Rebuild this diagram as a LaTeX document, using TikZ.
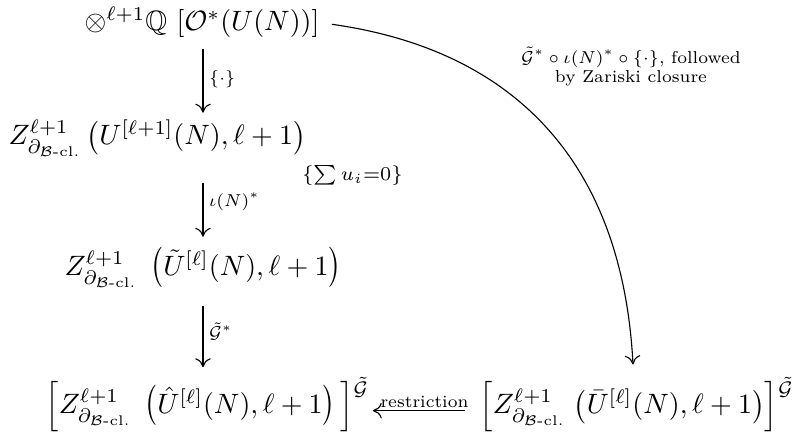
\documentclass[tikz,border=0pt]{standalone}
\usepackage{amsmath,amssymb,graphicx}
\usetikzlibrary{arrows.meta}
\newcommand{\Zcl}{Z^{\ell+1}_{\partial_{\mathcal{B}\text{-cl.}}}}
\newcommand{\mlpar}{\mathopen{\scalebox{1}[1.2]{$\bigl($}}}
\newcommand{\mrpar}{\mathclose{\scalebox{1}[1.2]{$\bigr)$}}}
\newcommand{\Gsup}{\smash{\raisebox{-2.5pt}{$\scriptstyle\tilde{\mathcal{G}}$}}}
\newcommand{\lb}[1]{\scalebox{0.88}{#1}}
\begin{document}
\begin{tikzpicture}[x=0.35714pt,y=-0.35714pt,
  cdarrow/.style={-{To[length=3.2pt,width=5.5pt]}, line width=0.4pt},
  lbl/.style={font=\scriptsize, inner sep=2pt},
  obj/.style={inner xsep=0pt, inner ysep=3.6pt}]
\useasboundingbox (0,0) rectangle (798,441);
\node[obj,anchor=base west] (A) at (84,31) {$\otimes^{\ell+1}\mathbb{Q}\,\left[\mathcal{O}^*(U(N))\right]$};
\node[obj,anchor=base west] (B) at (8,145) {$\Zcl\,\bigl(U^{[\ell+1]}(N),\ell+1\bigr)_{\smash{\raisebox{-8.7pt}{$\scriptstyle\!\{\sum u_i=0\}$}}}$};
\node[obj,anchor=base west] (C) at (64,276) {$\Zcl\;\,\mlpar\tilde{U}^{[\ell]}(N),\ell+1\mrpar$};
\node[obj,anchor=base west,inner ysep=6pt] (D) at (45,414) {$\Bigl[\Zcl\;\,\mlpar\hat{U}^{[\ell]}(N),\ell+1\mrpar\,\Bigr]^{\Gsup}$};
\node[obj,anchor=base west,inner ysep=6pt] (E) at (479,414) {$\Bigl[\Zcl\;\bigl(\bar{U}^{[\ell]}(N),\ell+1\bigr)\Bigr]^{\Gsup}$};
\coordinate (ax) at (203,0);
\draw[cdarrow,shorten >=-1.4pt] (A.south -| ax) -- node[lbl,right]{\lb{$\{\cdot\}$}} (B.north -| ax);
\draw[cdarrow,shorten <=5.5pt] (B.south -| ax) -- node[lbl,right]{\lb{$\iota(N)^*$}} (C.north -| ax);
\draw[cdarrow,shorten <=2.8pt,shorten >=-1pt] (C.south -| ax) -- node[lbl,right]{\lb{$\tilde{\mathcal{G}}^*$}} (D.north -| ax);
\draw[cdarrow,shorten <=5pt,shorten >=1pt,transform canvas={yshift=-1.3pt}] (E.west) -- node[lbl,above,inner sep=1pt]{\lb{restriction}} (E.west -| D.east);
\draw[cdarrow,shorten <=4.3pt] (A.east) to[out=-8,in=93,looseness=1.1] (E.north -| 633,0);
\node[lbl] (L) at (631,68) {\lb{\begin{tabular}{@{}c@{}}$\tilde{\mathcal{G}}^*\circ\iota(N)^*\circ\{\cdot\}$, followed\\by Zariski closure\end{tabular}}};
\end{tikzpicture}
\end{document}
